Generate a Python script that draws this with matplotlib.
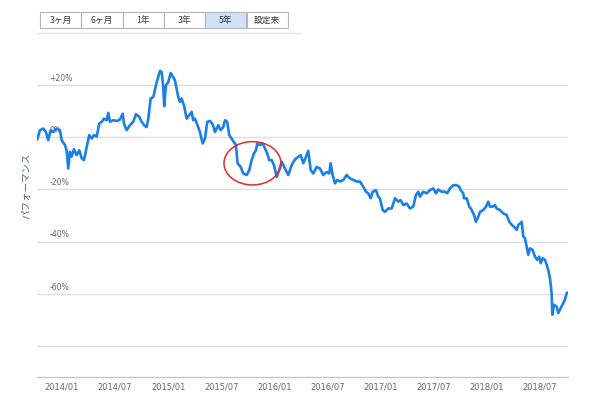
import matplotlib
matplotlib.use("Agg")
import matplotlib.pyplot as plt
from matplotlib.patches import Ellipse, Rectangle

plt.rcParams['font.family'] = ['Noto Sans CJK JP', 'DejaVu Sans']

# decimal years
t = [2013.767, 2013.793, 2013.824, 2013.849, 2013.871, 2013.894, 2013.918, 2013.950, 2013.981, 2013.997,
     2014.028, 2014.044, 2014.059, 2014.075, 2014.091, 2014.113, 2014.138, 2014.163, 2014.186, 2014.207,
     2014.233, 2014.257, 2014.280, 2014.301, 2014.327, 2014.351, 2014.374, 2014.395, 2014.421, 2014.436,
     2014.452, 2014.483, 2014.521, 2014.546, 2014.572, 2014.584, 2014.609, 2014.640, 2014.671, 2014.697,
     2014.728, 2014.750, 2014.782, 2014.798, 2014.813, 2014.835, 2014.860, 2014.892, 2014.923, 2014.939,
     2014.954, 2014.963, 2014.979, 2015.001, 2015.024, 2015.048, 2015.064, 2015.095, 2015.111, 2015.127,
     2015.149, 2015.174, 2015.199, 2015.221, 2015.236, 2015.252, 2015.283, 2015.299, 2015.325, 2015.347,
     2015.368, 2015.394, 2015.419, 2015.441, 2015.472, 2015.494, 2015.519, 2015.535, 2015.556, 2015.575,
     2015.607, 2015.638, 2015.654, 2015.683, 2015.707, 2015.739, 2015.764, 2015.786, 2015.808, 2015.827,
     2015.839, 2015.864, 2015.890, 2015.911, 2015.933, 2015.952, 2015.975, 2015.996, 2016.022, 2016.046,
     2016.069, 2016.100, 2016.131, 2016.163, 2016.194, 2016.225, 2016.248, 2016.272, 2016.298, 2016.319,
     2016.342, 2016.366, 2016.398, 2016.429, 2016.460, 2016.492, 2016.517, 2016.530, 2016.549, 2016.571,
     2016.592, 2016.618, 2016.649, 2016.681, 2016.712, 2016.743, 2016.775, 2016.806, 2016.837, 2016.863,
     2016.884, 2016.907, 2016.926, 2016.957, 2016.978, 2016.994, 2017.020, 2017.041, 2017.073, 2017.105,
     2017.136, 2017.167, 2017.189, 2017.214, 2017.246, 2017.277, 2017.308, 2017.333, 2017.355, 2017.371,
     2017.402, 2017.434, 2017.465, 2017.496, 2017.522, 2017.543, 2017.575, 2017.606, 2017.628, 2017.654,
     2017.685, 2017.717, 2017.741, 2017.754, 2017.779, 2017.785, 2017.811, 2017.835, 2017.858, 2017.880,
     2017.898, 2017.920, 2017.936, 2017.967, 2017.993, 2018.014, 2018.030, 2018.056, 2018.077, 2018.093,
     2018.124, 2018.155, 2018.187, 2018.212, 2018.235, 2018.256, 2018.282, 2018.297, 2018.319, 2018.329,
     2018.344, 2018.360, 2018.376, 2018.391, 2018.407, 2018.432, 2018.454, 2018.476, 2018.494, 2018.508,
     2018.526, 2018.548, 2018.564, 2018.579, 2018.595, 2018.611, 2018.617, 2018.633, 2018.658, 2018.673,
     2018.696, 2018.720, 2018.736, 2018.752, 2018.765]

perf = [-0.8, 2.7, 3.3, 2.0, -1.1, 2.7, 2.0, 3.3, 2.7, -1.1,
        -3.0, -5.0, -12.0, -5.6, -7.5, -4.6, -6.9, -5.0, -8.1, -8.8,
        -3.7, 0.8, -0.5, 0.8, 0.2, 5.2, 5.9, 7.1, 6.5, 9.3,
        5.9, 6.5, 6.2, 6.8, 9.0, 5.2, 2.7, 4.6, 5.9, 8.8,
        7.8, 5.9, 4.2, 3.9, 7.1, 14.8, 15.4, 21.1, 25.4, 25.0,
        19.2, 11.9, 19.9, 21.1, 24.6, 23.0, 21.8, 15.4, 13.5, 14.8,
        12.2, 7.1, 8.4, 9.7, 6.5, 7.1, 3.9, 2.0, -2.4, -0.5,
        5.9, 6.2, 5.0, 2.0, 4.6, 2.7, 3.9, 6.5, 5.9, 0.8,
        -1.1, -3.0, -10.0, -11.4, -13.9, -14.5, -12.6, -8.8, -6.2, -5.0,
        -2.4, -3.0, -2.4, -4.3, -6.2, -8.8, -8.8, -10.7, -15.2, -12.6,
        -9.4, -12.0, -14.5, -10.7, -8.5, -7.5, -6.9, -10.0, -7.5, -5.2,
        -12.6, -13.9, -11.4, -12.0, -14.5, -13.3, -13.9, -10.0, -14.5, -17.7,
        -16.4, -17.0, -16.4, -14.5, -15.8, -16.4, -17.0, -17.0, -19.0, -20.9,
        -21.5, -23.4, -20.9, -20.3, -22.8, -23.4, -27.9, -28.6, -27.3, -27.3,
        -23.4, -24.7, -24.1, -26.0, -25.4, -27.3, -26.6, -22.2, -20.9, -22.8,
        -20.9, -21.5, -20.3, -19.6, -21.5, -20.0, -20.9, -20.9, -21.5, -19.6,
        -18.4, -18.4, -19.0, -20.3, -21.5, -23.4, -23.4, -26.6, -27.9, -29.8,
        -32.4, -30.5, -28.6, -27.9, -26.6, -24.7, -26.6, -26.6, -26.0, -27.3,
        -27.9, -29.2, -29.8, -32.4, -33.6, -34.3, -35.5, -33.6, -32.9, -32.4,
        -38.1, -38.7, -41.9, -45.1, -42.6, -43.2, -45.8, -47.0, -45.8, -48.3,
        -46.4, -47.0, -48.9, -50.9, -54.0, -59.8, -68.0, -64.2, -64.9, -67.4,
        -65.5, -63.6, -62.3, -59.8, -59.5]

xtick_pos = [2014.0, 2014.5, 2015.0, 2015.5, 2016.0, 2016.5, 2017.0, 2017.5, 2018.0, 2018.5]
xtick_labels = ['2014/01', '2014/07', '2015/01', '2015/07', '2016/01', '2016/07',
                '2017/01', '2017/07', '2018/01', '2018/07']
grid_vals = [20, 0, -20, -40, -60, -80]
grid_labels = ['+20%', '0%', '-20%', '-40%', '-60%', '']
buttons = ['3ヶ月', '6ヶ月', '1年', '3年', '5年', '設定来']
selected = '5年'
ylabel = 'パフォーマンス'

fig = plt.figure(figsize=(6.0, 3.99), dpi=100)
W, H = 600, 399
ax = fig.add_axes([37 / W, 1 - 377 / H, 531 / W, 322 / H])
ax.set_xlim(2013.765, 2018.765)
ax.set_ylim(-91.9, 31.5)

for gv, gl in zip(grid_vals, grid_labels):
    ax.axhline(gv, color='#dedede', lw=1.0, zorder=1)
    if gl:
        ax.annotate(gl, xy=(0, gv), xycoords=('axes fraction', 'data'),
                    xytext=(9, 1.5), textcoords='offset points',
                    ha='left', va='bottom', fontsize=5.6, color='#666666',
                    family=['DejaVu Sans'], zorder=2)

ax.plot(t, perf, color='#1a80e6', lw=1.9, zorder=3, solid_joinstyle='round')

ell = Ellipse((2015.794, -10.0), width=0.537, height=16.6, fill=False,
              edgecolor='#e02a2a', lw=1.1, zorder=4)
ax.add_patch(ell)

for s in ['top', 'right', 'left']:
    ax.spines[s].set_visible(False)
ax.spines['bottom'].set_color('#c8c8c8')
ax.spines['bottom'].set_linewidth(1.0)
ax.set_yticks([])
ax.set_xticks(xtick_pos)
ax.set_xticklabels(xtick_labels, fontsize=6, color='#666666', family=['DejaVu Sans'])
ax.tick_params(axis='x', length=0, pad=4)

fig.text(27 / W, 1 - 186 / H, ylabel, rotation=90, ha='center', va='center',
         fontsize=6.8, color='#4d5a7a')

# range selector buttons
bx0, bw, by0, bh = 40, 41.3, 12.5, 15
for i, b in enumerate(buttons):
    x0 = bx0 + i * bw
    fc = '#cfe2f6' if b == selected else 'white'
    fig.patches.append(Rectangle((x0 / W, 1 - (by0 + bh) / H), bw / W, bh / H,
                                 transform=fig.transFigure, facecolor=fc,
                                 edgecolor='#b5b5b5', lw=0.8))
    fig.text((x0 + bw / 2) / W, 1 - (by0 + bh / 2) / H, b, ha='center', va='center',
             fontsize=6.3, color='#333333')
fig.add_artist(plt.Line2D([37 / W, 300 / W], [1 - 32.5 / H, 1 - 32.5 / H],
                          transform=fig.transFigure, color='#e2e2e2', lw=1.0))

fig.savefig('out.png', dpi=100)
